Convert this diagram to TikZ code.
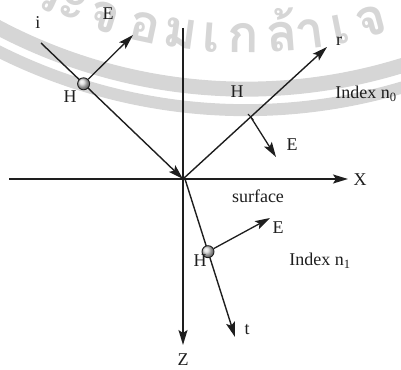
\documentclass[tikz,border=0pt]{standalone}
\usepackage{fontspec}
\setmainfont{Liberation Serif}
\newfontfamily\thaifont[Script=Thai]{Loma}
\usetikzlibrary{arrows.meta, calc}
\definecolor{wmgray}{HTML}{D6D6D6}
\definecolor{inkdark}{HTML}{1E1E1E}

\begin{document}
\begin{tikzpicture}[x=1pt, y=1pt,
  >={Stealth[length=15pt, width=9pt, inset=3pt]},
  axis/.style={->, line width=1.6pt, inkdark},
  ray/.style={->, line width=1.4pt, inkdark},
  field/.style={->, line width=1.3pt, inkdark},
  ball/.style={circle, draw=inkdark, line width=0.9pt, shading=ball,
    ball color=gray!30, minimum size=12pt, inner sep=0pt},
  lbl/.style={font=\fontsize{18}{20}\selectfont, text=inkdark, inner sep=1pt},
  wmband/.style={wmgray, line cap=butt},
]

% Frame
\useasboundingbox (0,0) rectangle (401,369);
\clip (0,0) rectangle (401,369);

% =============================================
% Watermark
% =============================================
\begin{scope}[shift={(246,811)}]
  \draw[wmband, line width=15pt] (200:531) arc (200:340:531);
  \draw[wmband, line width=12pt] (200:552) arc (200:340:552);
  \foreach \ch/\xx in {ร/42, ะ/68, จ/100, อ/142, ม/178, เ/210, ก/243, ล้/283, า/312, เ/343, จ/375}{
    \pgfmathsetmacro\ang{270+asin((\xx-246)/495)}
    \node[anchor=base, rotate=\ang+90, text=wmgray, inner sep=0pt,
          font=\thaifont\bfseries\fontsize{52}{52}\selectfont]
      (wm\xx) at (\ang:495) {\ch};
  }
\end{scope}

% =============================================
% Axes
% =============================================
\coordinate (O) at (183,190);
\coordinate (xstart) at (9,190);
\coordinate (xend) at (348,190);
\coordinate (zstart) at (183,341);
\coordinate (zend) at (183,24);

\draw[axis] (xstart) -- (xend);
\draw[axis] (zstart) -- (zend);
\node[lbl] (xlbl) at (360,189) {X};
\node[lbl] (zlbl) at (183,9) {Z};
\node[lbl] (surf) at (258,173) {surface};

% =============================================
% Incident ray
% =============================================
\coordinate (istart) at (41,326);
\coordinate (Ei) at (133,334);
\draw[ray] (istart) -- (O);
\node[ball] (hi) at ($(istart)!0.3!(O)$) {};
\draw[field] (hi) -- (Ei);
\node[lbl] (ilbl) at (38,346) {i};
\node[lbl] (Eilbl) at (108,355) {E};
\node[lbl] (Hilbl) at (70,272) {H};

% =============================================
% Reflected ray
% =============================================
\coordinate (rend) at (327,322);
\coordinate (Er) at (276,212);
\draw[ray] (O) -- (rend);
\coordinate (hr) at ($(O)!0.47!(rend)$);
\draw[line width=1pt, inkdark] ($(hr)!4pt!90:(rend)$) -- ($(hr)!4pt!-90:(rend)$);
\draw[field] (hr) -- (Er);
\node[lbl] (rlbl) at (339,328) {r};
\node[lbl] (Hrlbl) at (237,277) {H};
\node[lbl] (Erlbl) at (292,224) {E};
\node[lbl] (n0lbl) at (366,275) {Index n\textsubscript{0}};

% =============================================
% Transmitted ray
% =============================================
\coordinate (tstart) at (185,190);
\coordinate (tend) at (235,32);
\coordinate (Et) at (270,151);
\draw[ray] (tstart) -- (tend);
\node[ball] (ht) at ($(tstart)!0.46!(tend)$) {};
\draw[field] (ht) -- (Et);
\node[lbl] (tlbl) at (247,39) {t};
\node[lbl] (Etlbl) at (278,141) {E};
\node[lbl] (Htlbl) at (200,108) {H};
\node[lbl] (n1lbl) at (320,108) {Index n\textsubscript{1}};

\end{tikzpicture}
\end{document}
